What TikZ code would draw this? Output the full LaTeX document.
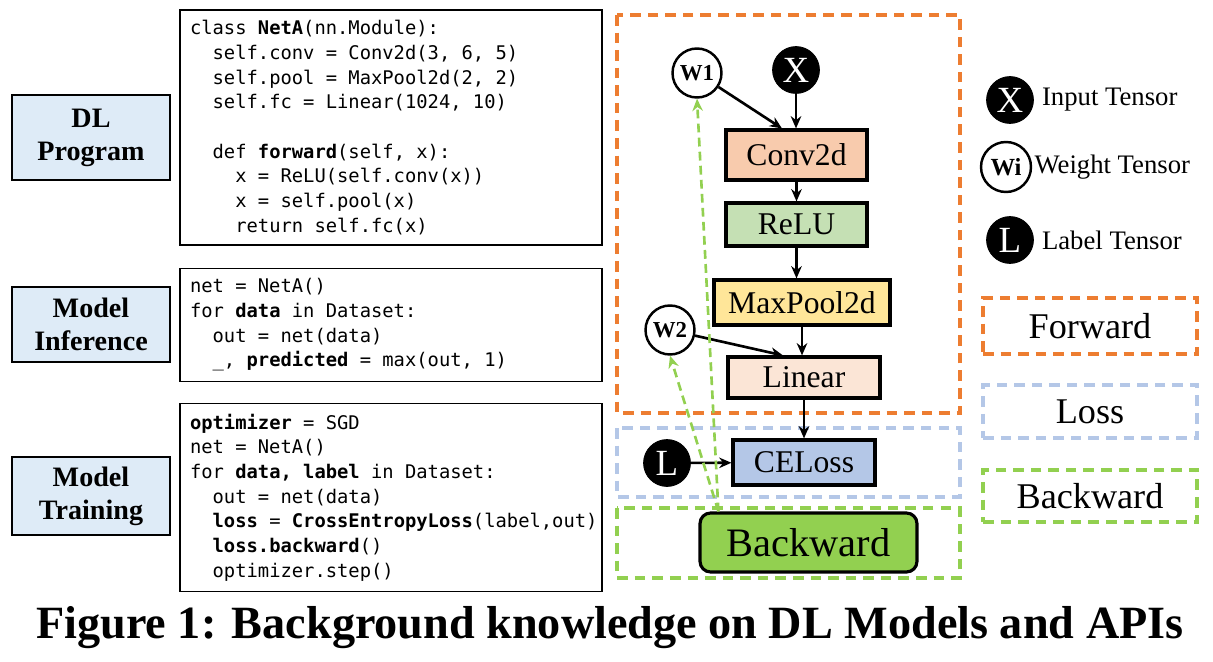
\documentclass[tikz,border=0pt]{standalone}
\usepackage{fontspec}
\setmainfont{Liberation Serif}
\setmonofont{DejaVu Sans Mono}
\usetikzlibrary{arrows.meta,positioning,calc,shapes}
\definecolor{fwdorange}{HTML}{ED7D31}
\definecolor{lossblue}{HTML}{B4C7E7}
\definecolor{bwdgreen}{HTML}{92D050}
\definecolor{stagefill}{HTML}{DEEBF7}
\definecolor{convfill}{HTML}{F8CBAD}
\definecolor{relufill}{HTML}{C5E0B4}
\definecolor{poolfill}{HTML}{FFE699}
\definecolor{linfill}{HTML}{FBE5D6}
\newcommand{\ind}{\phantom{xx}}

\begin{document}
\begin{tikzpicture}[
    x=0.02cm, y=-0.02cm,
    stage/.style={
        draw, line width=0.9pt, fill=stagefill,
        minimum width=3.16cm, inner sep=0pt,
        align=center,
        font={\fontsize{16}{18.7}\selectfont\bfseries}
    },
    codebox/.style={
        draw, line width=0.7pt,
        minimum width=8.44cm, text width=8.04cm, inner sep=0.2cm,
        align=flush left,
        font={\fontsize{10.7}{14.06}\selectfont\ttfamily},
        execute at begin node={\spaceskip=6.44pt\xspaceskip=6.44pt\hfuzz=20pt\relax}
    },
    layer/.style={
        draw, line width=1.8pt, inner sep=0pt,
        font={\fontsize{18}{20}\selectfont}
    },
    weight/.style={
        draw, circle, line width=1.4pt, fill=white, inner sep=0pt,
        minimum size=0.98cm, font={\fontsize{13}{14}\selectfont\bfseries}
    },
    tensor/.style={
        draw, circle, fill=black, text=white, inner sep=0pt,
        minimum size=0.94cm, font={\fontsize{21}{22}\selectfont}
    },
    region/.style={line width=2pt, dash pattern=on 6pt off 4pt},
    legendbox/.style={
        region, draw=#1, minimum width=4.28cm, inner sep=0pt,
        font={\fontsize{20.6}{22}\selectfont}
    },
    flow/.style={-{Stealth[length=7pt,width=6pt]}, line width=1.5pt},
    grad/.style={-{Stealth[length=7pt,width=6pt]}, line width=1.5pt,
        draw=bwdgreen, dash pattern=on 5pt off 3pt}
]
\useasboundingbox (0,0) rectangle (1213,662);

\node[stage, minimum height=1.7cm] (dlprog) at (91,137.5) {DL\\Program};
\node[stage, minimum height=1.5cm] (infer) at (91,324.5) {Model\\Inference};
\node[stage, minimum height=1.56cm] (train) at (91,496) {Model\\Training};

\node[codebox, minimum height=4.7cm] (progcode) at (391,127.5) {class \textbf{NetA}(nn.Module):\\
\ind self.conv = Conv2d(3, 6, 5)\\
\ind self.pool = MaxPool2d(2, 2)\\
\ind self.fc = Linear(1024, 10)\\
\mbox{}\\
\ind def \textbf{forward}(self, x):\\
\ind\ind x = ReLU(self.conv(x))\\
\ind\ind x = self.pool(x)\\
\ind\ind return self.fc(x)};
\node[codebox, minimum height=2.2cm] (infercode) at (391,325) {net = NetA()\\
for \textbf{data} in Dataset:\\
\ind out = net(data)\\
\ind \_, \textbf{predicted} = max(out, 1)};
\node[codebox, minimum height=3.7cm] (traincode) at (391,497.5) {\textbf{optimizer} = SGD\\
net = NetA()\\
for \textbf{data, label} in Dataset:\\
\ind out = net(data)\\
\mbox{\ind \textbf{loss} = \textbf{CrossEntropyLoss}(label,out)}\\
\ind \textbf{loss.backward}()\\
\ind optimizer.step()};

% dashed regions of the graph
\draw[region, draw=fwdorange] (617,15) rectangle (960,413);
\draw[region, draw=lossblue] (617,428) rectangle (960,497);
\draw[region, draw=bwdgreen] (617,508) rectangle (960,578);

\node[weight] (w1) at (697,73) {W1};
\node[tensor] (x) at (796,70) {X};
\node[layer, fill=convfill, minimum width=2.82cm, minimum height=1.0cm] (conv) at (796.5,155) {Conv2d};
\node[layer, fill=relufill, minimum width=2.82cm, minimum height=0.86cm] (relu) at (796.5,224.5) {ReLU};
\node[layer, fill=poolfill, minimum width=3.52cm, minimum height=0.9cm] (pool) at (802,302.5) {MaxPool2d};
\node[weight] (w2) at (670,330) {W2};
\node[layer, fill=linfill, minimum width=3.04cm, minimum height=0.82cm] (linear) at (804,377.5) {Linear};
\node[tensor] (lbl) at (667,463) {L};
\node[layer, fill=lossblue, minimum width=2.84cm, minimum height=0.9cm] (celoss) at (804,462.5) {CELoss};
\node[layer, fill=bwdgreen, rounded corners=6pt, minimum width=4.34cm, minimum height=1.18cm,
    font={\fontsize{23}{25}\selectfont}] (back) at (808.5,542.5) {Backward};

\draw[flow] (w1) -- ([xshift=-0.29cm]conv.north);
\draw[flow] (x) -- (x |- conv.north);
\draw[flow] (conv) -- (relu);
\draw[flow] (relu.south) -- (relu.south |- pool.north);
\draw[flow] (pool.south) -- (pool.south |- linear.north);
\draw[flow] (w2) -- ([xshift=-0.42cm]linear.north);
\draw[flow] (linear) -- (linear.south |- celoss.north);
\draw[flow] (lbl) -- (celoss);
\draw[grad] ([xshift=0.4cm]back.north west) -- (w1.south);
\draw[grad] ([xshift=0.4cm]back.north west) -- (w2.south);

\node[tensor] (keyx) at (1010,100) {X};
\node[right=0.04cm of keyx, font={\fontsize{15.2}{17}\selectfont}] (keyxtext) {Input Tensor};
\node[weight, minimum size=1.0cm, font={\fontsize{14}{15}\selectfont\bfseries}] (keyw) at (1006,167) {Wi};
\node[right=0cm of keyw, inner sep=0.04cm, font={\fontsize{15.2}{17}\selectfont}] (keywtext) {Weight Tensor};
\node[tensor] (keyl) at (1010,240) {L};
\node[right=0.04cm of keyl, font={\fontsize{15.2}{17}\selectfont}] (keyltext) {Label Tensor};

\node[legendbox=fwdorange, minimum height=1.12cm] (keyfwd) at (1090,326) {Forward};
\node[legendbox=lossblue, minimum height=1.06cm] (keyloss) at (1090,411.5) {Loss};
\node[legendbox=bwdgreen, minimum height=1.04cm] (keybwd) at (1090,496) {Backward};

\node[font={\fontsize{26.3}{28}\selectfont\bfseries}] (caption) at (610,628)
    {Figure 1: Background knowledge on DL Models and APIs};
\end{tikzpicture}
\end{document}
